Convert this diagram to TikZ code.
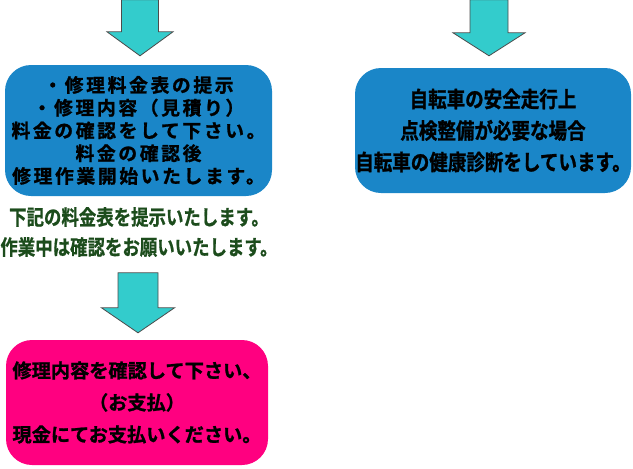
\documentclass[tikz,border=0pt]{standalone}
\usepackage{fontspec}
\usepackage{xcolor}
\usepackage{tikz}
\usetikzlibrary{positioning, calc}
\newfontfamily\cjkbox[LetterSpace=14,FakeBold=1.2]{Noto Sans CJK JP Bold}
\newfontfamily\cjknarrow[FakeStretch=0.85,FakeBold=1.2]{Noto Sans CJK JP Bold}
\newfontfamily\cjknote[FakeStretch=0.83,FakeBold=0.8]{Noto Sans CJK JP Bold}
\newfontfamily\cjkpay[FakeBold=1.2]{Noto Sans CJK JP Bold}
\definecolor{boxblue}{HTML}{1A86C8}
\definecolor{arrowcyan}{HTML}{33CCCC}
\definecolor{notegreen}{HTML}{1C4C1C}
\definecolor{paypink}{HTML}{FF0080}

\begin{document}
\begin{tikzpicture}[x=1pt,y=-1pt]
\tikzset{
  infobox/.style={rounded corners=26pt, align=center, inner sep=0pt},
  downarr/.style={fill=arrowcyan, draw=black!70, line width=0.8pt, line join=miter}
}
\useasboundingbox (0,0) rectangle (633,469);
% Boxes
\node[infobox, fill=boxblue, minimum width=267pt, minimum height=131pt,
  font=\cjkbox\fontsize{18.8}{22.75}\selectfont] (repair) at (138.5,130.5)
  {・修理料金表の提示\\・修理内容（見積り）\\料金の確認をして下さい。\\料金の確認後\\修理作業開始いたします。};
\node[infobox, fill=boxblue, minimum width=276pt, minimum height=125pt,
  font=\cjknarrow\fontsize{21.8}{31.5}\selectfont] (check) at (493,130.5)
  {自転車の安全走行上\\点検整備が必要な場合\\自転車の健康診断をしています。};
\node[align=center, text=notegreen, font=\cjknote\fontsize{21}{30}\selectfont]
  (note) at (139,232) {下記の料金表を提示いたします。\\作業中は確認をお願いいたします。};
\node[infobox, fill=paypink, minimum width=262pt, minimum height=125pt,
  font=\cjkpay\fontsize{19.2}{32}\selectfont] (pay) at (137,402.5)
  {修理内容を確認して下さい、\\（お支払）\\現金にてお支払いください。};
% Arrows (drawn from the tip above each box)
\filldraw[downarr] ($(repair.north)+(1.5,-9)$) -- ++(-33,-24) -- ++(14.5,0) -- ++(0,-32)
  -- ++(37,0) -- ++(0,32) -- ++(14.5,0) -- cycle;
\filldraw[downarr] ($(check.north)+(-4,-12)$) -- ++(-36,-23) -- ++(17,0) -- ++(0,-33)
  -- ++(38,0) -- ++(0,33) -- ++(17,0) -- cycle;
\filldraw[downarr] ($(pay.north)+(1,-7)$) -- ++(-36.5,-25) -- ++(16.5,0) -- ++(0,-35)
  -- ++(40,0) -- ++(0,35) -- ++(16.5,0) -- cycle;
\end{tikzpicture}
\end{document}
